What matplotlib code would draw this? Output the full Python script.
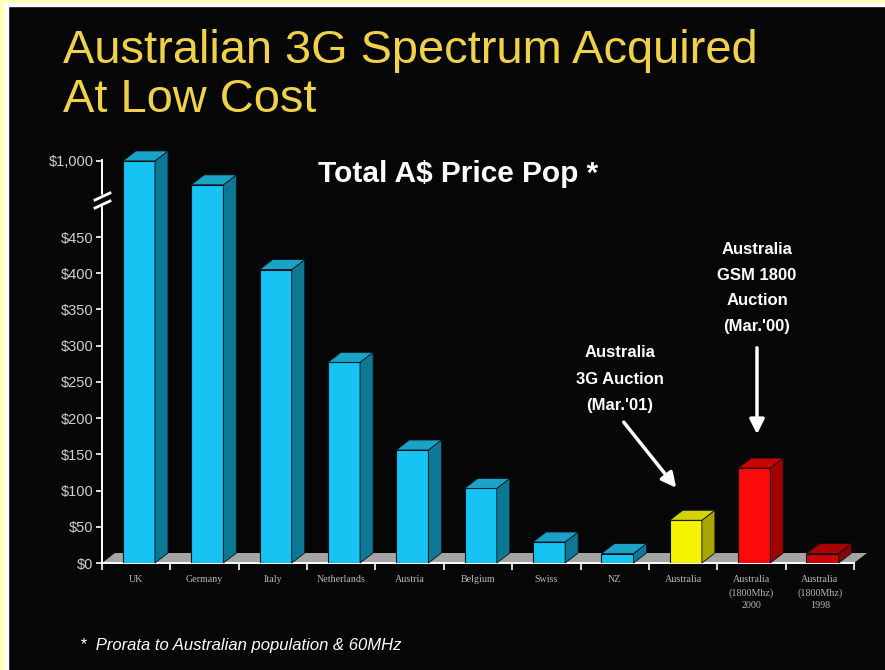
import numpy as np
import matplotlib
matplotlib.use("Agg")
import matplotlib.pyplot as plt
from matplotlib.patches import Polygon, Rectangle
from matplotlib.transforms import IdentityTransform
from matplotlib.lines import Line2D

# ---------------- data ----------------
categories = ["UK", "Germany", "Italy", "Netherlands", "Austria", "Belgium",
              "Swiss", "NZ", "Australia",
              "Australia\n(1800Mhz)\n2000", "Australia\n(1800Mhz)\n1998"]
values = [1000, 700, 405, 277, 156, 103, 29, 13, 59, 131, 13]
bar_kinds = ["blue"] * 8 + ["yellow", "red", "darkred"]
yticks = [0, 50, 100, 150, 200, 250, 300, 350, 400, 450, 1000]
ytick_labels = ["$0", "$50", "$100", "$150", "$200", "$250", "$300", "$350",
                "$400", "$450", "$1,000"]

palette = {
    "blue":    ("#16C3F2", "#0D7894", "#1AA3C6"),
    "yellow":  ("#F7F200", "#A9A600", "#D6D200"),
    "red":     ("#FF0A0A", "#A00000", "#CC0000"),
    "darkred": ("#D00000", "#860000", "#AC0000"),
}

# broken axis: compress values above 500
BREAK, K = 500.0, 0.11
def fwd(v):
    v = np.asarray(v, float)
    return np.where(v <= BREAK, v, BREAK + (v - BREAK) * K)
def inv(u):
    u = np.asarray(u, float)
    return np.where(u <= BREAK, u, BREAK + (u - BREAK) / K)

W, H = 885, 670
BG = "#060606"
fig = plt.figure(figsize=(W / 100, H / 100), dpi=100, facecolor=BG)

# border
fig.patches.append(Rectangle((0, 0), 4 / W, 1, transform=fig.transFigure,
                             color="#FFFFB4", zorder=0))
fig.patches.append(Rectangle((0, 1 - 3 / H), 1, 3 / H, transform=fig.transFigure,
                             color="#FFFFB4", zorder=0))
fig.patches.append(Rectangle((4 / W, 0), 4 / W, 1 - 3 / H, transform=fig.transFigure,
                             color="white", zorder=0))
fig.patches.append(Rectangle((4 / W, 1 - 6 / H), 1, 3 / H, transform=fig.transFigure,
                             color="white", zorder=0))

left_px, right_px, base_px, top_px = 102, 854, 563, 140
ax = fig.add_axes([left_px / W, (H - base_px) / H,
                   (right_px - left_px) / W, (base_px - top_px) / H])
ax.set_facecolor("none")
ax.set_yscale("function", functions=(fwd, inv))
ax.set_xlim(-0.5, len(categories) - 0.5)
ax.set_ylim(0, float(inv((base_px - top_px) / 0.7244)))

x = np.arange(len(categories))
bw = 0.47
shift = 0.04
fronts = [palette[k][0] for k in bar_kinds]
ax.bar(x + shift, values, width=bw, color=fronts, edgecolor="#04141c",
       linewidth=0.8, zorder=3)

# 3D depth
dx, dy = 13, 10
td = ax.transData
X0b, Y0 = td.transform((-0.5, 0))
X1b, _ = td.transform((len(categories) - 0.5, 0))
floor = Polygon([(X0b, Y0), (X1b, Y0), (X1b + dx, Y0 + dy), (X0b + dx, Y0 + dy)],
                closed=True, transform=IdentityTransform(), facecolor="#A4A4A4",
                edgecolor="none", zorder=1, clip_on=False)
ax.add_patch(floor)

for xi, v, k in zip(x + shift, values, bar_kinds):
    front, side, topc = palette[k]
    XA, YA = td.transform((xi - bw / 2, 0))
    XB, YT = td.transform((xi + bw / 2, v))
    sidep = Polygon([(XB, YA), (XB + dx, YA + dy), (XB + dx, YT + dy), (XB, YT)],
                    closed=True, transform=IdentityTransform(), facecolor=side,
                    edgecolor="#04141c", linewidth=0.6, zorder=4, clip_on=False)
    topp = Polygon([(XA, YT), (XB, YT), (XB + dx, YT + dy), (XA + dx, YT + dy)],
                   closed=True, transform=IdentityTransform(), facecolor=topc,
                   edgecolor="#04141c", linewidth=0.6, zorder=4, clip_on=False)
    ax.add_patch(sidep)
    ax.add_patch(topp)

# axes styling
for s in ["top", "right"]:
    ax.spines[s].set_visible(False)
ax.spines["left"].set_color("white")
ax.spines["left"].set_linewidth(1.4)
ax.spines["left"].set_bounds(0, 1010)
ax.spines["bottom"].set_color("white")
ax.spines["bottom"].set_linewidth(1.4)
ax.spines["left"].set_zorder(5)

ax.set_yticks(yticks)
ax.set_yticklabels(ytick_labels)
ax.tick_params(axis="y", colors="white", length=4, width=1.2, pad=2,
               labelsize=10.5, labelcolor="#CFCFCF")
for t in ax.get_yticklabels():
    t.set_fontfamily("Liberation Sans")

ax.set_xticks(np.arange(-0.5, len(categories), 1))
ax.set_xticklabels([])
ax.tick_params(axis="x", which="major", colors="white", length=5, width=1.2)
ax.set_xticks(x, minor=True)
ax.set_xticklabels(categories, minor=True)
ax.tick_params(axis="x", which="minor", length=0, pad=9, labelsize=7.2,
               labelcolor="#B8B8B8")
for t in ax.get_xticklabels(minor=True):
    t.set_fontfamily("Liberation Serif")
    t.set_linespacing(1.5)

# axis break mark
yb = H - 200
fig.patches.append(Rectangle((left_px - 3, yb - 5), 7, 10,
                             transform=IdentityTransform(), color=BG, zorder=6))
for off in (-4, 4):
    fig.lines.append(Line2D([left_px - 7, left_px + 8],
                            [yb + off - 4, yb + off + 3],
                            transform=IdentityTransform(), color="white",
                            linewidth=2.0, zorder=7))

# titles
title_col = "#F0D24A"
fig.text(63 / W, 1 - 63 / H, "Australian 3G Spectrum Acquired", color=title_col,
         fontsize=33.8, family="Liberation Sans", ha="left", va="baseline")
fig.text(63 / W, 1 - 112 / H, "At Low Cost", color=title_col,
         fontsize=33.8, family="Liberation Sans", ha="left", va="baseline")
fig.text(458 / W, 1 - 182 / H, "Total A$ Price Pop *", color="white",
         fontsize=21.5, weight="bold", family="Liberation Sans",
         ha="center", va="baseline")

# annotations
fig.text(620 / W, 1 - 379 / H, "Australia\n3G Auction\n(Mar.'01)", color="white",
         fontsize=12, weight="bold", family="Liberation Sans", ha="center",
         va="center", linespacing=1.95)
fig.text(757 / W, 1 - 288 / H, "Australia\nGSM 1800\nAuction\n(Mar.'00)",
         color="white", fontsize=12, weight="bold", family="Liberation Sans",
         ha="center", va="center", linespacing=1.9)
fig.add_artist(matplotlib.patches.FancyArrowPatch(
    (622 / W, 1 - 420 / H), (678 / W, 1 - 490 / H), transform=fig.transFigure,
    arrowstyle="-|>", mutation_scale=22, color="white", linewidth=2.5))
fig.add_artist(matplotlib.patches.FancyArrowPatch(
    (757 / W, 1 - 345 / H), (757 / W, 1 - 437 / H), transform=fig.transFigure,
    arrowstyle="-|>", mutation_scale=22, color="white", linewidth=2.5))

# footnote
fig.text(80 / W, 1 - 650 / H, "*  Prorata to Australian population & 60MHz",
         color="white", fontsize=12, style="italic", family="Liberation Sans",
         ha="left", va="baseline")

fig.savefig("out.png", dpi=100, facecolor=BG)
